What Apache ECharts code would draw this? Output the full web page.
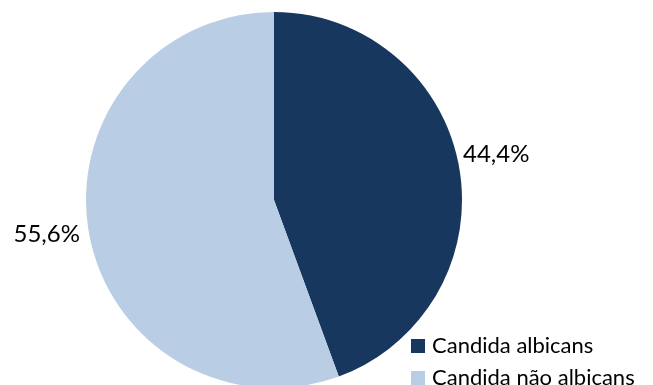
<!DOCTYPE html>
<html>
<head>
<meta charset="utf-8">
<script src="https://cdn.jsdelivr.net/npm/echarts@6/dist/echarts.min.js"></script>
<style>html,body{margin:0;padding:0;background:#fff;}#c{width:653px;height:385px;}</style>
</head>
<body>
<div id="c"></div>
<script>
var categories = ['Candida albicans', 'Candida não albicans'];
var values = [44.4, 55.6];
var labels = ['44,4%', '55,6%'];
var colors = ['#17375E', '#B9CDE5'];

var chart = echarts.init(document.getElementById('c'), null, {renderer: 'canvas'});
chart.setOption({
  animation: false,
  legend: {
    orient: 'vertical',
    left: 406,
    top: 333,
    height: 60,
    icon: 'rect',
    itemWidth: 14,
    itemHeight: 14,
    itemGap: 10,
    padding: [2, 5],
    textStyle: {fontFamily: 'Lato', fontSize: 22, lineHeight: 16, color: '#000', padding: [0, 0, 0, 2]},
    data: categories
  },
  series: [{
    type: 'pie',
    center: [274, 200],
    radius: [0, 188],
    startAngle: 90,
    clockwise: true,
    data: categories.map(function (c, i) {
      return {name: c, value: values[i], itemStyle: {color: colors[i]}, label: {formatter: labels[i]}};
    }),
    label: {
      show: true,
      position: 'outside',
      fontFamily: 'Lato',
      fontSize: 24,
      color: '#000'
    },
    labelLine: {show: false, length: 5, length2: 0},
    labelLayout: function (p) {
      return p.dataIndex === 0 ? {dx: -6, dy: -12} : {dx: 1, dy: 0};
    },
    emphasis: {disabled: true}
  }]
});
</script>
</body>
</html>
